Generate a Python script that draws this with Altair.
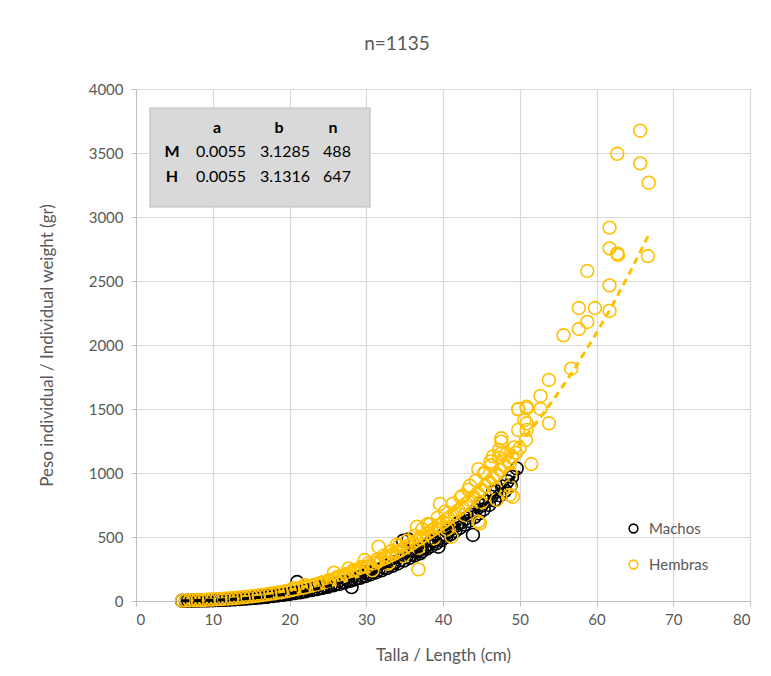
import altair as alt
import pandas as pd

# ---------------- data ----------------
male_len = [6.0, 6.8, 7.5, 8.2, 9.0, 9.6, 10.3, 11.0, 11.7, 12.4,
            13.0, 13.8, 14.5, 15.2, 16.0, 16.7, 17.4, 18.1, 18.9, 19.6,
            20.3, 21.0, 21.8, 22.5, 23.2, 24.0, 24.7, 25.4, 26.1, 26.9,
            27.6, 28.1, 28.8, 29.5, 30.2, 30.9, 31.6, 32.3, 33.0, 33.7,
            34.4, 34.8, 35.2, 35.5, 35.9, 36.5, 37.0, 37.0, 37.6, 38.2,
            38.8, 39.4, 39.4, 40.0, 40.6, 41.2, 41.8, 42.4, 43.0, 43.6,
            43.9, 44.3, 45.0, 45.6, 46.3, 47.0, 47.7, 48.4, 49.0, 49.6,
            21.0, 28.1, 17.0, 24.5, 30.0, 33.5, 36.2, 38.5, 40.3, 42.0,
            44.8, 46.5]
male_wt = [2, 2, 3, 4, 5, 6, 7, 9, 11, 13,
           15, 18, 21, 25, 29, 33, 38, 43, 49, 55,
           61, 68, 76, 84, 93, 103, 113, 124, 135, 148,
           160, 170, 183, 197, 212, 228, 245, 262, 281, 300,
           320, 470, 345, 480, 366, 385, 400, 372, 420, 445,
           465, 424, 490, 515, 540, 565, 590, 615, 645, 675,
           516, 710, 745, 780, 815, 855, 895, 935, 970, 1036,
           148, 109, 40, 118, 225, 300, 390, 470, 520, 610,
           760, 850]

# second, lower row of male circles in the dense band
male_len2 = [6.5, 7.2, 7.9, 8.6, 9.3, 10.0, 10.7, 11.4, 12.1, 12.8,
             13.5, 14.2, 14.9, 15.6, 16.3, 17.1, 17.8, 18.5, 19.3, 20.0,
             20.7, 21.4, 22.1, 22.9, 23.6, 24.3, 25.0, 25.8, 26.5, 27.2,
             27.9, 28.5, 29.2, 29.9, 30.6, 31.3, 32.0, 32.7, 33.4, 34.1,
             34.9, 35.6, 36.3, 37.3, 37.9, 38.5, 39.1, 39.8, 40.4, 41.0,
             41.6, 42.2, 42.8, 43.4, 44.1, 44.7, 45.3, 46.0, 46.7, 47.4,
             48.1, 48.8]
male_wt2 = [1, 2, 3, 4, 5, 6, 8, 9, 11, 13,
            16, 19, 22, 25, 29, 33, 38, 43, 49, 55,
            62, 68, 76, 85, 93, 102, 111, 123, 133, 145,
            157, 168, 181, 195, 209, 225, 240, 257, 275, 293,
            316, 336, 357, 389, 409, 430, 451, 476, 500, 523,
            547, 572, 598, 625, 656, 685, 715, 750, 786, 825,
            863, 902]

fem_len = [6.0, 6.5, 7.0, 7.5, 8.0, 8.5, 9.0, 9.5, 10.0, 10.5,
           11.0, 11.5, 12.0, 12.5, 13.0, 13.5, 14.0, 14.5, 15.0, 15.5,
           16.0, 16.5, 17.0, 17.5, 18.0, 18.5, 19.0, 19.5, 20.0, 20.5,
           21.0, 21.5, 22.0, 22.5, 23.0, 23.5, 24.0, 24.5, 25.0, 25.5,
           26.0, 26.5, 27.0, 27.5, 28.0, 28.5, 29.0, 29.5, 30.0, 30.5,
           31.0, 31.5, 32.0, 32.5, 33.0, 33.5, 34.0, 34.5, 35.0, 35.5,
           36.0, 36.5, 37.0, 37.5, 38.0, 38.5, 39.0, 39.5, 40.0, 40.5,
           41.0, 41.5, 42.0, 42.5, 43.0, 43.5, 44.0, 44.5, 45.0, 45.5,
           46.0, 46.5, 47.0, 47.5, 48.0, 48.5, 49.0, 49.5, 50.0,
           31.6, 27.7, 25.8, 29.8, 36.6, 39.6, 47.6, 49.8, 51.5, 48.7,
           44.6, 47.0, 41.1, 36.8, 44.8, 48.7, 49.1, 48.7, 47.6, 50.8,
           50.9, 50.6, 50.9, 45.5, 46.5, 43.5, 42.5, 38.0, 34.0, 33.0,
           40.5, 45.0, 22.0, 20.5, 44.6, 46.2, 47.3,
           65.7, 62.7, 65.7, 66.8, 61.7, 61.7, 62.7, 62.8, 66.7, 58.8,
           61.7, 57.7, 59.8, 61.7, 58.8, 57.7, 55.7, 56.7, 53.8, 52.7,
           52.7, 50.9, 49.8, 53.8, 49.8, 50.9, 47.6]
fem_wt = [3, 4, 5, 6, 6, 7, 9, 11, 12, 14,
          15, 18, 20, 22, 24, 27, 30, 33, 36, 40,
          43, 47, 51, 56, 60, 66, 70, 76, 82, 88,
          95, 101, 107, 115, 122, 130, 138, 147, 156, 165,
          175, 185, 195, 206, 217, 229, 240, 252, 265, 278,
          292, 305, 320, 334, 350, 365, 382, 398, 415, 433,
          450, 470, 488, 508, 528, 549, 570, 592, 615, 637,
          660, 685, 708, 735, 760, 787, 813, 842, 870, 900,
          930, 960, 990, 1022, 1055, 1090, 1122, 1158, 1195,
          424, 255, 221, 320, 580, 758, 1245, 1497, 1070, 828,
          620, 789, 502, 247, 607, 893, 815, 1076, 1154, 1258,
          1336, 1414, 1505, 1000, 1130, 900, 820, 600, 440, 300,
          560, 770, 125, 100, 1030, 1090, 1180,
          3674, 3494, 3419, 3268, 2917, 2755, 2716, 2703, 2695, 2578,
          2466, 2289, 2289, 2266, 2180, 2125, 2076, 1815, 1727, 1602,
          1500, 1518, 1500, 1388, 1336, 1388, 1271]

# extra female circles above and below the centre of the band
fem_len2 = [24.2, 25.2, 26.3, 27.3, 28.3, 29.3, 30.3, 31.3, 32.3, 33.3,
            34.3, 35.3, 36.3, 37.3, 38.3, 39.3, 40.3, 41.3, 42.3, 43.3,
            44.3, 45.3, 46.3, 47.3, 48.3, 49.3,
            30.8, 32.8, 34.8, 36.8, 38.8, 40.8, 42.8, 44.8, 46.8, 48.8]
fem_wt2 = [145, 165, 190, 210, 240, 265, 295, 320, 355, 390,
           430, 470, 510, 560, 600, 650, 700, 760, 810, 870,
           940, 1000, 1060, 1120, 1150, 1200,
           240, 290, 350, 415, 490, 575, 670, 770, 880, 1000]

series_names = ["Machos", "Hembras"]
series_colors = ["#000000", "#FFC000"]

table_cols = ["a", "b", "n"]
table_rows = ["M", "H"]
table_a = ["0.0055", "0.0055"]
table_b = ["3.1285", "3.1316"]
table_n = ["488", "647"]

x_ticks = [0, 10, 20, 30, 40, 50, 60, 70, 80]
y_ticks = [0, 500, 1000, 1500, 2000, 2500, 3000, 3500, 4000]

# ---------------- tables ----------------
df = pd.concat([
    pd.DataFrame({"L": male_len, "W": male_wt, "sexo": series_names[0]}),
    pd.DataFrame({"L": male_len2, "W": male_wt2, "sexo": series_names[0]}),
    pd.DataFrame({"L": fem_len, "W": fem_wt, "sexo": series_names[1]}),
    pd.DataFrame({"L": fem_len2, "W": fem_wt2, "sexo": series_names[1]}),
], ignore_index=True)

FONT = "Lato"
GREY = "#595959"

xscale = alt.Scale(domain=[0, 80], nice=False)
yscale = alt.Scale(domain=[0, 4000], nice=False)

xenc = alt.X("L:Q", scale=xscale,
             axis=alt.Axis(values=x_ticks, format="d", title="Talla / Length  (cm)"))
yenc = alt.Y("W:Q", scale=yscale,
             axis=alt.Axis(values=y_ticks, format="d",
                           title="Peso individual / Individual weight (gr)"))

base = alt.Chart(df)

points = base.mark_point(filled=False, size=165, strokeWidth=1.6, opacity=1).encode(
    x=xenc, y=yenc,
    color=alt.Color("sexo:N",
                    scale=alt.Scale(domain=series_names, range=series_colors),
                    sort=series_names,
                    legend=alt.Legend(title=None, orient="none", legendX=490,
                                      legendY=432, symbolSize=75,
                                      symbolStrokeWidth=1.6,
                                      labelFontSize=15, labelFont=FONT,
                                      labelColor=GREY, rowPadding=19,
                                      labelOffset=8)),
)

fem_fit = base.transform_filter(alt.datum.sexo == "Hembras").transform_regression(
    "L", "W", method="pow", extent=[6, 67]
).mark_line(color="#FFC000", strokeWidth=3, strokeDash=[7, 5]).encode(
    x=alt.X("L:Q", scale=xscale), y=alt.Y("W:Q", scale=yscale))

male_fit = base.transform_filter(alt.datum.sexo == "Machos").transform_regression(
    "L", "W", method="pow", extent=[6, 50]
).mark_line(color="#000000", strokeWidth=3, strokeDash=[7, 5]).encode(
    x=alt.X("L:Q", scale=xscale), y=alt.Y("W:Q", scale=yscale))

# ---------------- parameter table ----------------
box = alt.Chart(pd.DataFrame({"k": [0]})).mark_rect(
    fill="#d9d9d9", stroke="#bfbfbf", strokeWidth=1.2
).encode(x=alt.value(14), x2=alt.value(234), y=alt.value(19), y2=alt.value(118))


def txt(values, xpx, ypx, bold=False, align="center"):
    return alt.Chart(pd.DataFrame({"t": [values]})).mark_text(
        font=FONT, fontSize=16, fontWeight="bold" if bold else "normal",
        color="#000000", align=align, baseline="middle", lineHeight=25
    ).encode(text="t:N", x=alt.value(xpx), y=alt.value(ypx))


tbl = [
    txt(table_cols[0], 81, 39, bold=True),
    txt(table_cols[1], 143, 39, bold=True),
    txt(table_cols[2], 197, 39, bold=True),
    txt(table_rows, 36, 63, bold=True),
    txt(table_a, 85, 63),
    txt(table_b, 149, 63),
    txt(table_n, 201, 63),
]

chart = alt.layer(points, fem_fit, male_fit, box, *tbl).properties(
    width=614, height=512,
    autosize=alt.AutoSizeParams(type="none"),
    padding={"left": 128, "top": 81, "right": 12, "bottom": 70},
    title=alt.TitleParams("n=1135", fontSize=19, font=FONT, fontWeight="normal",
                          color=GREY, anchor="middle", dx=-46, offset=28),
).configure_view(stroke=None).configure_axis(
    labelFont=FONT, labelFontSize=15, labelColor=GREY,
    titleFont=FONT, titleFontSize=17, titleColor=GREY, titleFontWeight="normal",
    gridColor="#d9d9d9", gridWidth=1.2, domainColor="#bfbfbf", tickColor="#bfbfbf",
    tickSize=5,
).configure_axisX(labelPadding=6, titlePadding=20).configure_axisY(
    labelPadding=8, titlePadding=32)

chart.save("out.html", embed_options={"renderer": "svg", "actions": False})
